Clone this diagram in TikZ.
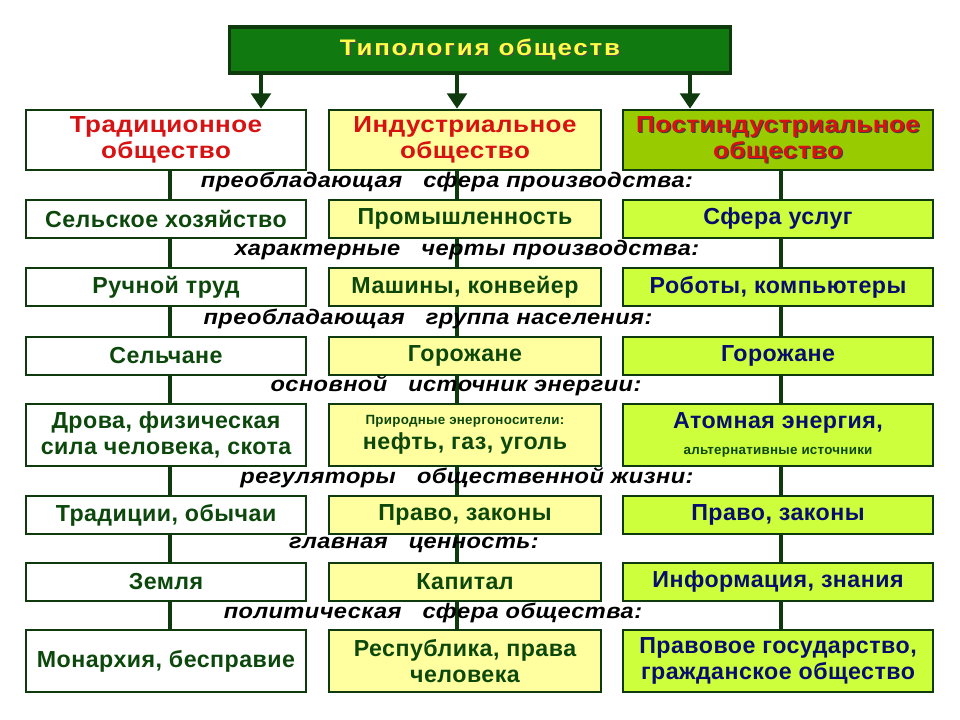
\documentclass[tikz,border=0pt]{standalone}
\usepackage{fontspec}
\setmainfont{Liberation Sans}[LetterSpace=2]
\newfontfamily\widefont{Liberation Sans}[FakeStretch=1.12,LetterSpace=2]
\newfontfamily\titlefont{Liberation Sans}[FakeStretch=1.15,LetterSpace=8]
\usepackage{tikz}
\usetikzlibrary{arrows.meta,backgrounds}

\definecolor{frame}{RGB}{14,58,14}
\definecolor{titlefill}{RGB}{16,122,16}
\definecolor{titletxt}{RGB}{255,255,70}
\definecolor{headthree}{RGB}{153,204,0}
\definecolor{cellthree}{RGB}{206,255,60}
\definecolor{celltwo}{RGB}{255,255,160}
\definecolor{txtgreen}{RGB}{12,72,12}
\definecolor{txtblue}{RGB}{8,14,110}
\definecolor{txtred}{RGB}{215,18,18}

% text with a small dark shadow
\newcommand{\shd}[2]{\leavevmode\rlap{\kern0.9pt\raisebox{-0.9pt}{\color{#1}#2}}#2}

\tikzset{
  cell/.style={draw=frame, line width=1.8pt, align=center, inner sep=1pt,
    font=\fontsize{16.5}{18}\bfseries, text=txtgreen},
  cola/.style={cell, fill=white, minimum width=7cm},
  colb/.style={cell, fill=celltwo, minimum width=6.8cm},
  colc/.style={cell, fill=cellthree, minimum width=7.75cm, text=txtblue},
  low/.style={minimum height=0.95cm},
  tall/.style={minimum height=1.55cm},
  head/.style={minimum height=1.5cm, text=txtred,
    font=\widefont\fontsize{16.5}{18.5}\bfseries},
  lbl/.style={font=\widefont\fontsize{15}{16}\bfseries\itshape, inner sep=0pt},
  link/.style={draw=frame, line width=2.2pt},
  arr/.style={draw=frame, line width=2.8pt,
    -{Triangle[width=14pt,length=11pt]}}
}

\begin{document}
\begin{tikzpicture}[x=0.025cm,y=-0.025cm]
\useasboundingbox (0,0) rectangle (960,720);

% title
\node[draw=frame, line width=2.2pt, fill=titlefill, minimum width=12.5cm,
  minimum height=1.15cm, font=\titlefont\fontsize{16}{17}\bfseries, text=titletxt]
  (t) at (480,50) {\shd{black!70}{Типология обществ}};

% headers
\node[cola,head] (ha) at (166,140) {Традиционное\\общество};
\node[colb,head] (hb) at (465,140) {Индустриальное\\общество};
\node[colc,head,fill=headthree,text=txtred] (hc) at (778,140)
  {\shd{black!75}{Постиндустриальное}\\\shd{black!75}{общество}};

% arrows from the title
\coordinate (ax1) at (261,0);
\coordinate (ax2) at (457,0);
\coordinate (ax3) at (690,0);
\draw[arr] (t.south -| ax1) -- (ha.north -| ax1);
\draw[arr] (t.south -| ax2) -- (hb.north -| ax2);
\draw[arr] (t.south -| ax3) -- (hc.north -| ax3);

% row 1
\node[cola,low] (r1a) at (166,219) {Сельское хозяйство};
\node[colb,low] (r1b) at (465,219) {Промышленность};
\node[colc,low] (r1c) at (778,219) {Сфера услуг};
% row 2
\node[cola,low] (r2a) at (166,287) {Ручной труд};
\node[colb,low] (r2b) at (465,287) {Машины, конвейер};
\node[colc,low] (r2c) at (778,287) {Роботы, компьютеры};
% row 3
\node[cola,low] (r3a) at (166,356) {Сельчане};
\node[colb,low] (r3b) at (465,356) {Горожане};
\node[colc,low] (r3c) at (778,356) {Горожане};
% row 4
\node[cola,tall] (r4a) at (166,435) {Дрова, физическая\\сила человека, скота};
\node[colb,tall] (r4b) at (465,435)
  {{\fontsize{9.5}{12}\selectfont Природные энергоносители:}\\
   {\fontsize{16.5}{18}\selectfont нефть, газ, уголь}};
\node[colc,tall] (r4c) at (778,435)
  {{\fontsize{16.5}{19}\selectfont Атомная энергия,}\\
   {\fontsize{9.5}{10}\selectfont\color{txtgreen}альтернативные источники}};
% row 5
\node[cola,low] (r5a) at (166,515) {Традиции, обычаи};
\node[colb,low] (r5b) at (465,515) {Право, законы};
\node[colc,low] (r5c) at (778,515) {Право, законы};
% row 6
\node[cola,low] (r6a) at (166,582) {Земля};
\node[colb,low] (r6b) at (465,582) {Капитал};
\node[colc,low] (r6c) at (778,582) {Информация, знания};
% row 7
\node[cola,tall] (r7a) at (166,661) {Монархия, бесправие};
\node[colb,tall] (r7b) at (465,661) {Республика, права\\человека};
\node[colc,tall] (r7c) at (778,661) {Правовое государство,\\гражданское общество};

% column lines
\begin{scope}[on background layer]
\draw[link] ([xshift=0.1cm]ha.south) -- ([xshift=0.1cm]r7a.north);
\draw[link] ([xshift=-0.2cm]hb.south) -- ([xshift=-0.2cm]r7b.north);
\draw[link] ([xshift=0.075cm]hc.south) -- ([xshift=0.075cm]r7c.north);
\end{scope}

% labels between rows
\node[lbl] (l1) at (447,182) {преобладающая\quad сфера производства:};
\node[lbl] (l2) at (467,250) {характерные\quad черты производства:};
\node[lbl] (l3) at (428,319) {преобладающая\quad группа населения:};
\node[lbl] (l4) at (456,386) {основной\quad источник энергии:};
\node[lbl] (l5) at (467,478) {регуляторы\quad общественной жизни:};
\node[lbl] (l6) at (414,545) {главная\quad ценность:};
\node[lbl] (l7) at (433,613) {политическая\quad сфера общества:};
\end{tikzpicture}
\end{document}
